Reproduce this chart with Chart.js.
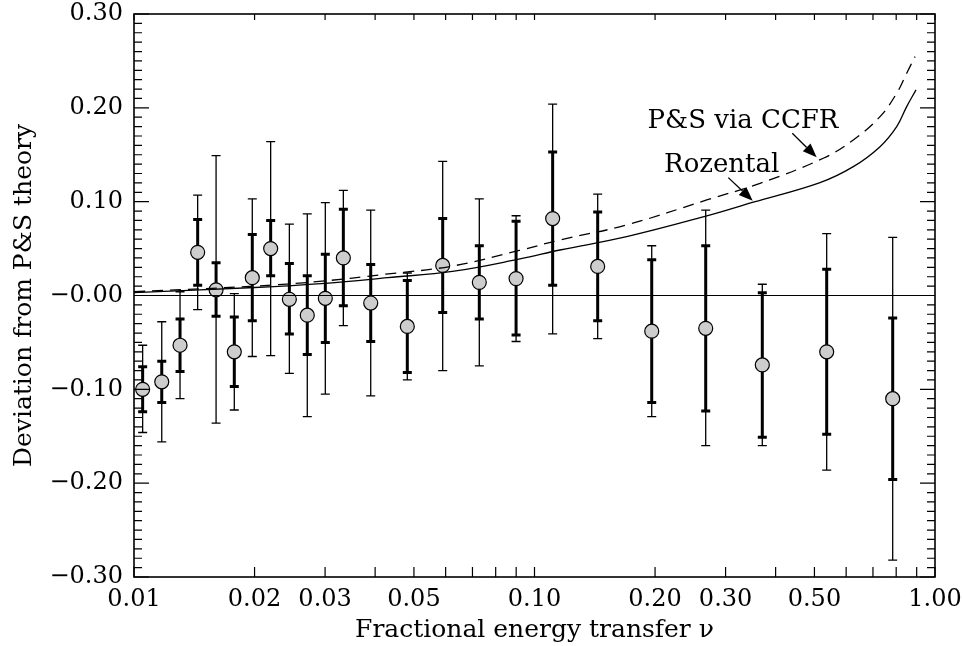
<!DOCTYPE html>
<html>
<head>
<meta charset="utf-8">
<script src="https://cdn.jsdelivr.net/npm/chart.js@4.4.1/dist/chart.umd.min.js"></script>
<style>
  html, body { margin: 0; padding: 0; background: #fff; }
</style>
</head>
<body>
<canvas id="grafico" width="963" height="646"></canvas>
<script>
// energia fracional (eixo x) de cada ponto
const nu = [0.01051, 0.01173, 0.01303, 0.01442, 0.01603, 0.01780, 0.01974, 0.02194,
    0.02443, 0.02708, 0.03004, 0.03332, 0.03900, 0.04813, 0.05899, 0.07281,
    0.08995, 0.1110, 0.1438, 0.1962, 0.2676, 0.3705, 0.5365, 0.7841];

// desvio medido
const desvio = [-0.100, -0.092, -0.053, 0.046, 0.006, -0.060, 0.019, 0.050,
    -0.004, -0.021, -0.003, 0.040, -0.008, -0.033, 0.032, 0.014,
    0.018, 0.082, 0.031, -0.038, -0.035, -0.074, -0.060, -0.110];

// barra fina (erro total) - limites superior e inferior
const finaSup = [-0.053, -0.028, 0.004, 0.107, 0.149, 0.002, 0.103, 0.164,
    0.076, 0.087, 0.099, 0.112, 0.091, 0.024, 0.143, 0.103,
    0.085, 0.204, 0.108, 0.053, 0.091, 0.012, 0.066, 0.062];
const finaInf = [-0.146, -0.156, -0.110, -0.015, -0.136, -0.122, -0.065, -0.064,
    -0.083, -0.129, -0.105, -0.032, -0.107, -0.090, -0.080, -0.075,
    -0.049, -0.041, -0.046, -0.129, -0.160, -0.160, -0.186, -0.282];

// barra grossa (erro estatistico) - limites superior e inferior
const grossaSup = [-0.076, -0.070, -0.025, 0.081, 0.035, -0.023, 0.065, 0.080,
    0.034, 0.021, 0.044, 0.092, 0.033, 0.016, 0.082, 0.053,
    0.079, 0.153, 0.089, 0.038, 0.053, 0.003, 0.028, -0.024];
const grossaInf = [-0.124, -0.114, -0.081, 0.011, -0.022, -0.097, -0.027, 0.021,
    -0.041, -0.063, -0.050, -0.011, -0.049, -0.082, -0.018, -0.025,
    -0.042, 0.011, -0.027, -0.114, -0.123, -0.151, -0.148, -0.196];

// curvas teoricas
const nuRozental = [0.01, 0.02, 0.03, 0.043, 0.063, 0.092, 0.1158, 0.1699, 0.2692, 0.3518,
    0.5163, 0.6252, 0.7290, 0.8024, 0.8498, 0.8966];
const yRozental = [0.003, 0.0085, 0.013, 0.019, 0.026, 0.039, 0.0485, 0.0627, 0.0848, 0.0994,
    0.1203, 0.1373, 0.1586, 0.1800, 0.2013, 0.2191];
const nuCCFR = [0.01, 0.02, 0.029, 0.0425, 0.0626, 0.0916, 0.1158, 0.1699, 0.2692, 0.3656,
    0.5261, 0.6252, 0.7290, 0.8024, 0.8498, 0.8914];
const yCCFR = [0.004, 0.010, 0.015, 0.0227, 0.0315, 0.048, 0.0592, 0.0752, 0.1018, 0.1196,
    0.1463, 0.1658, 0.1906, 0.2156, 0.2369, 0.2546];

// rotulos dos eixos
const rotulosX = [0.01, 0.02, 0.03, 0.05, 0.1, 0.2, 0.3, 0.5, 1.0];
const marcasX = [0.01, 0.02, 0.03, 0.04, 0.05, 0.06, 0.07, 0.08, 0.09,
    0.1, 0.2, 0.3, 0.4, 0.5, 0.6, 0.7, 0.8, 0.9, 1.0];
const rotulosY = [-0.3, -0.2, -0.1, 0, 0.1, 0.2, 0.3];

const fonte = '"DejaVu Serif", "Liberation Serif", serif';

function juntar(xs, ys) {
    let lista = [];
    for (let i = 0; i < xs.length; i++) {
        lista.push({ x: xs[i], y: ys[i] });
    }
    return lista;
}

// moldura, marcas internas, barras de erro e anotacoes
const moldura = {
    id: 'moldura',
    beforeDatasetsDraw(chart) {
        const c = chart.ctx;
        const sx = chart.scales.x, sy = chart.scales.y;
        c.save();
        c.strokeStyle = '#000';
        for (let i = 0; i < nu.length; i++) {
            const px = sx.getPixelForValue(nu[i]);
            // barra fina
            c.lineWidth = 1.3;
            c.beginPath();
            c.moveTo(px, sy.getPixelForValue(finaSup[i]));
            c.lineTo(px, sy.getPixelForValue(finaInf[i]));
            for (const v of [finaSup[i], finaInf[i]]) {
                const py = sy.getPixelForValue(v);
                c.moveTo(px - 4.5, py);
                c.lineTo(px + 4.5, py);
            }
            c.stroke();
            // barra grossa
            c.lineWidth = 3;
            c.beginPath();
            c.moveTo(px, sy.getPixelForValue(grossaSup[i]));
            c.lineTo(px, sy.getPixelForValue(grossaInf[i]));
            for (const v of [grossaSup[i], grossaInf[i]]) {
                const py = sy.getPixelForValue(v);
                c.moveTo(px - 4.5, py);
                c.lineTo(px + 4.5, py);
            }
            c.stroke();
        }
        c.restore();
    },
    afterDraw(chart) {
        const c = chart.ctx;
        const a = chart.chartArea;
        const sx = chart.scales.x, sy = chart.scales.y;
        c.save();
        c.strokeStyle = '#000';
        c.fillStyle = '#000';

        // marcas do eixo x (baixo e cima)
        c.lineWidth = 1.2;
        c.beginPath();
        for (const v of marcasX) {
            const px = sx.getPixelForValue(v);
            c.moveTo(px, a.bottom);
            c.lineTo(px, a.bottom - 10);
            c.moveTo(px, a.top);
            c.lineTo(px, a.top + 6);
        }
        // marcas do eixo y (esquerda e direita), menores a cada 0.01
        for (let k = -30; k <= 30; k++) {
            const py = sy.getPixelForValue(k / 100);
            const tam = (k % 10 === 0) ? 15 : 8;
            c.moveTo(a.left, py);
            c.lineTo(a.left + tam, py);
            c.moveTo(a.right, py);
            c.lineTo(a.right - tam, py);
        }
        c.stroke();

        c.lineWidth = 1.6;
        c.strokeRect(a.left, a.top, a.right - a.left, a.bottom - a.top);

        // anotacoes
        c.font = '26px ' + fonte;
        c.textAlign = 'center';
        c.textBaseline = 'alphabetic';
        c.fillText('P&S via CCFR', sx.getPixelForValue(0.3316), sy.getPixelForValue(0.1782));
        c.fillText('Rozental', sx.getPixelForValue(0.2934), sy.getPixelForValue(0.1320));

        seta(c, sx.getPixelForValue(0.4402), sy.getPixelForValue(0.1729),
            sx.getPixelForValue(0.5064), sy.getPixelForValue(0.1473));
        seta(c, sx.getPixelForValue(0.3047), sy.getPixelForValue(0.1256),
            sx.getPixelForValue(0.3506), sy.getPixelForValue(0.1011));
        c.restore();
    }
};

function seta(c, x0, y0, x1, y1) {
    const ang = Math.atan2(y1 - y0, x1 - x0);
    const comp = 14, meia = 5.5;
    c.lineWidth = 1.3;
    c.beginPath();
    c.moveTo(x0, y0);
    c.lineTo(x1 - comp * Math.cos(ang), y1 - comp * Math.sin(ang));
    c.stroke();
    c.beginPath();
    c.moveTo(x1, y1);
    c.lineTo(x1 - comp * Math.cos(ang) - meia * Math.sin(ang), y1 - comp * Math.sin(ang) + meia * Math.cos(ang));
    c.lineTo(x1 - comp * Math.cos(ang) + meia * Math.sin(ang), y1 - comp * Math.sin(ang) - meia * Math.cos(ang));
    c.closePath();
    c.fill();
}

const ctx = document.getElementById('grafico').getContext('2d');

const config = {
    type: 'scatter',
    data: {
        datasets: [
            {
                type: 'line',
                label: 'zero',
                data: [{ x: 0.01, y: 0 }, { x: 1.0, y: 0 }],
                borderColor: '#000',
                borderWidth: 1.2,
                pointRadius: 0
            },
            {
                type: 'line',
                label: 'Rozental',
                data: juntar(nuRozental, yRozental),
                borderColor: '#000',
                borderWidth: 1.3,
                pointRadius: 0,
                tension: 0.4
            },
            {
                type: 'line',
                label: 'P&S via CCFR',
                data: juntar(nuCCFR, yCCFR),
                borderColor: '#000',
                borderWidth: 1.3,
                borderDash: [11, 7],
                pointRadius: 0,
                tension: 0.4
            },
            {
                label: 'dados',
                data: juntar(nu, desvio),
                pointRadius: 7,
                pointHoverRadius: 7,
                backgroundColor: '#cdcdcd',
                borderColor: '#000',
                borderWidth: 1.2
            }
        ]
    },
    options: {
        responsive: false,
        devicePixelRatio: 1,
        animation: false,
        layout: { padding: { top: 14, right: 28, left: 0, bottom: 0 } },
        plugins: {
            legend: { display: false },
            tooltip: { enabled: false }
        },
        scales: {
            x: {
                type: 'logarithmic',
                min: 0.01,
                max: 1.0,
                afterBuildTicks: (s) => { s.ticks = rotulosX.map(v => ({ value: v })); },
                afterFit: (s) => { s.height = 69; s.paddingLeft = 0; s.paddingRight = 0; },
                grid: { display: false, drawTicks: false },
                border: { display: false },
                ticks: {
                    autoSkip: false,
                    maxRotation: 0,
                    padding: 8,
                    color: '#000',
                    font: { family: fonte, size: 24 },
                    callback: (v) => Number(v).toFixed(2)
                },
                title: {
                    display: true,
                    text: 'Fractional energy transfer \u03bd',
                    color: '#000',
                    font: { family: fonte, size: 25 },
                    padding: { top: 0, bottom: 1 }
                }
            },
            y: {
                min: -0.3,
                max: 0.3,
                afterBuildTicks: (s) => { s.ticks = rotulosY.map(v => ({ value: v })); },
                afterFit: (s) => { s.width = 134; s.paddingTop = 0; s.paddingBottom = 0; },
                grid: { display: false, drawTicks: false },
                border: { display: false },
                ticks: {
                    padding: 11,
                    color: '#000',
                    font: { family: fonte, size: 24 },
                    callback: (v) => {
                        if (Math.abs(v) < 1e-9) return '\u22120.00';
                        return (v < 0 ? '\u2212' : '') + Math.abs(v).toFixed(2);
                    }
                },
                title: {
                    display: true,
                    text: 'Deviation from P&S theory',
                    color: '#000',
                    font: { family: fonte, size: 25 },
                    padding: { top: 9, bottom: 0 }
                }
            }
        }
    },
    plugins: [moldura]
};

let grafico = new Chart(ctx, config);
</script>
</body>
</html>
